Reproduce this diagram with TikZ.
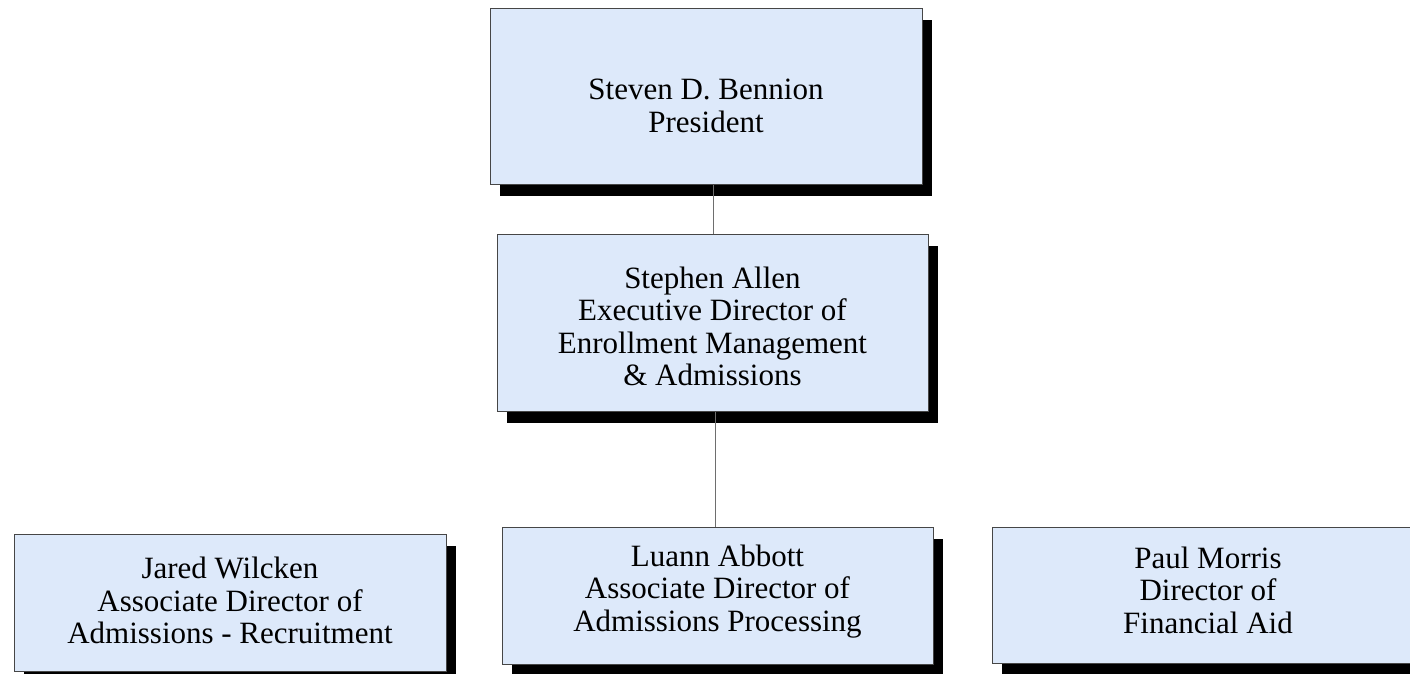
\documentclass[tikz,border=0pt]{standalone}
\usepackage{fontspec}
\setmainfont{Liberation Serif}
\usetikzlibrary{shadows}
\definecolor{boxfill}{RGB}{221,233,250}
\definecolor{boxline}{RGB}{70,70,70}
\definecolor{linkline}{RGB}{110,110,110}
\begin{document}
\begin{tikzpicture}[x=1pt,y=1pt,
  orgbox/.style={draw=boxline, line width=1pt, fill=boxfill,
    inner sep=0pt, minimum width=432pt,
    drop shadow={shadow xshift=10pt, shadow yshift=-11pt, fill=black, opacity=1}},
  orgtext/.style={align=center, inner sep=0pt,
    font=\fontsize{31}{32.5}\selectfont},
  link/.style={draw=linkline, line width=1pt}]
\useasboundingbox (0,0) rectangle (1410,674);
\clip (0,0) rectangle (1410,674);
\node[orgbox, minimum height=176pt] (pres) at (706,577) {};
\node[orgtext, yshift=-9pt] (pres-t) at (pres.center) {Steven D. Bennion\\President};
\node[orgbox, minimum width=431pt, minimum height=177pt] (exec) at (712.5,350.5) {};
\node[orgtext, yshift=-3pt] (exec-t) at (exec.center) {Stephen Allen\\Executive Director of\\Enrollment Management\\\& Admissions};
\node[orgbox, minimum height=137pt] (jared) at (230,70.5) {};
\node[orgtext, yshift=3pt] (jared-t) at (jared.center) {Jared Wilcken\\Associate Director of\\Admissions - Recruitment};
\node[orgbox, minimum width=431pt, minimum height=137pt] (luann) at (717.5,77.5) {};
\node[orgtext, yshift=5pt] (luann-t) at (luann.center) {Luann Abbott\\Associate Director of\\Admissions Processing};
\node[orgbox, minimum height=136pt] (paul) at (1208,78) {};
\node[orgtext, yshift=6pt] (paul-t) at (paul.center) {Paul Morris\\Director of\\Financial Aid};
\coordinate (c1) at (713,0);
\coordinate (c2) at (715,0);
\draw[link] (pres.south -| c1) -- (exec.north -| c1);
\draw[link] (exec.south -| c2) -- (luann.north -| c2);
\end{tikzpicture}
\end{document}
